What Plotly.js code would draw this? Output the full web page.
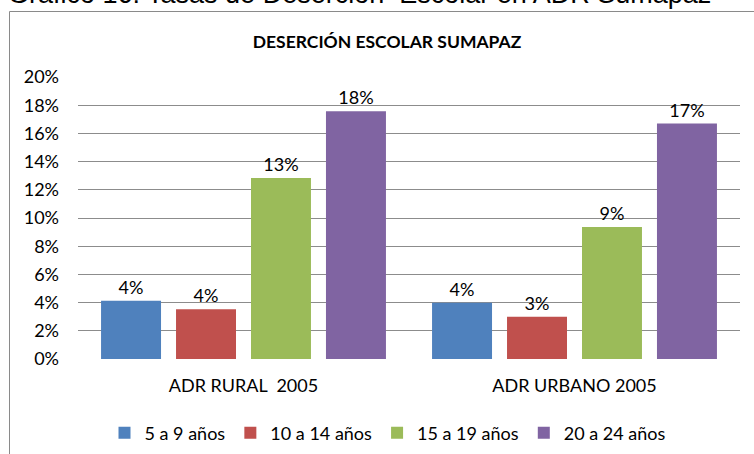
<!DOCTYPE html>
<html>
<head>
<meta charset="utf-8">
<script src="https://cdn.plot.ly/plotly-3.0.1.min.js"></script>
<style>html,body{margin:0;padding:0;background:#fff;}#chart{width:754px;height:454px;}</style>
</head>
<body>
<div id="chart"></div>
<script>
const categories = ["ADR RURAL  2005", "ADR URBANO 2005"];
const seriesNames = ["5 a 9 años", "10 a 14 años", "15 a 19 años", "20 a 24 años"];
const s1 = [0.0413, 0.0399];
const s2 = [0.0352, 0.0300];
const s3 = [0.1284, 0.0936];
const s4 = [0.1757, 0.1670];
const colors = ["#4F81BD", "#C0504D", "#9BBB59", "#8064A2"];
const tickVals = [0, 0.02, 0.04, 0.06, 0.08, 0.10, 0.12, 0.14, 0.16, 0.18, 0.20];

const FONT = "Lato, 'Open Sans', sans-serif";
const allSeries = [s1, s2, s3, s4];
const traces = allSeries.map((vals, i) => ({
  type: "bar",
  name: seriesNames[i],
  x: categories,
  y: vals,
  marker: {color: colors[i]},
  texttemplate: "%{y:.0%}",
  textposition: "outside",
  cliponaxis: false,
  textfont: {family: FONT, size: 18, color: "#000"},
  hoverinfo: "none"
}));

const pxX = p => (p - 78) / 662;
const pxY = p => (359 - p) / 282;

const layout = {
  width: 754, height: 454,
  margin: {l: 78, r: 14, t: 77, b: 95, autoexpand: false},
  paper_bgcolor: "#fff", plot_bgcolor: "#fff",
  barmode: "group",
  bargap: 0.094,
  bargroupgap: 0.2,
  font: {family: FONT, size: 18, color: "#000"},
  title: {
    text: "<b>DESERCIÓN ESCOLAR SUMAPAZ</b>",
    font: {family: FONT, size: 17.5, color: "#000"},
    x: (387 - 78) / 662, xref: "paper", xanchor: "center",
    y: 1 - 42/454, yref: "container", yanchor: "middle"
  },
  xaxis: {
    type: "category",
    automargin: false,
    showgrid: false, zeroline: false, showline: false,
    ticks: "", tickfont: {family: FONT, size: 18, color: "#000"},
    ticklabelstandoff: 14
  },
  yaxis: {
    range: [0, 0.2],
    automargin: false,
    tickvals: tickVals,
    tickformat: ".0%",
    showgrid: true, gridcolor: "#8c8c8c", gridwidth: 1,
    zeroline: false, showline: false, ticks: "",
    tickfont: {family: FONT, size: 18, color: "#000"},
    ticklabelstandoff: 18
  },
  showlegend: true,
  legend: {
    orientation: "h",
    xref: "paper",
    x: pxX(388), xanchor: "center",
    yref: "container",
    y: (454 - 433) / 454, yanchor: "middle",
    font: {family: FONT, size: 18, color: "#000"},
    itemwidth: 30,
    traceorder: "normal"
  },
  annotations: [{
    text: "Gráfico 16: Tasas de Deserción  Escolar en ADR Sumapaz",
    xref: "paper", yref: "paper",
    x: pxX(6), xanchor: "left",
    y: pxY(11), yanchor: "bottom",
    showarrow: false,
    font: {family: "'Liberation Sans', Arial, sans-serif", size: 27, color: "#000"}
  }],
  shapes: [
    {type: "line", xref: "paper", yref: "paper", x0: pxX(9.5), x1: pxX(760), y0: pxY(11.5), y1: pxY(11.5), line: {color: "#8a8a8a", width: 1}},
    {type: "line", xref: "paper", yref: "paper", x0: pxX(9.5), x1: pxX(9.5), y0: pxY(11.5), y1: pxY(460), line: {color: "#8a8a8a", width: 1}}
  ]
};

Plotly.newPlot("chart", traces, layout, {displayModeBar: false, staticPlot: true});
</script>
</body>
</html>
